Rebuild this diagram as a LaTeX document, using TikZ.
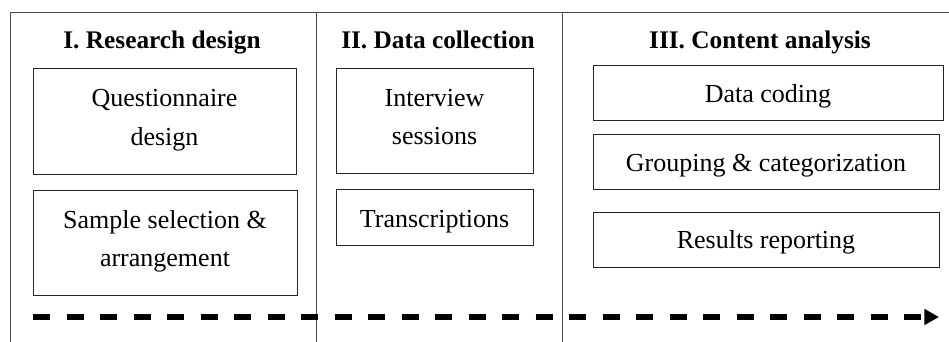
\documentclass[tikz,border=0pt]{standalone}
\usepackage{fontspec}
\setmainfont{Liberation Serif}
\usetikzlibrary{arrows.meta}
\newcommand{\twolines}[2]{\begin{tabular}[b]{@{}c@{}}#1\\#2\end{tabular}}
\begin{document}
\begin{tikzpicture}[x=0.75pt,y=-0.75pt,
  frame/.style={draw=black!70,line width=0.6pt},
  stepbox/.style={draw=black!85,line width=0.65pt,rectangle,inner sep=0pt,
    font=\fontsize{19.5}{29}\selectfont,text height=15pt,text depth=0pt},
  twobox/.style={stepbox,text height=36.5pt},
  title/.style={font=\fontsize{19}{23}\selectfont\bfseries,anchor=base},
  flow/.style={line width=4pt,dash pattern=on 12.75pt off 12.375pt,-{Triangle[length=11pt,width=11.5pt]}}]
\useasboundingbox (0,0) rectangle (949,342);
% frame
\draw[frame] (10,342) -- (10,12) -- (949,12);
\draw[frame] (316,12) -- (316,342);
\draw[frame] (562,12) -- (562,342);
% titles
\node[title] (t1) at (162,49) {I. Research design};
\node[title] (t2) at (438,49) {II. Data collection};
\node[title] (t3) at (760,49) {III. Content analysis};
% column I
\node[twobox,minimum width=263*0.75pt,minimum height=106*0.75pt] (q) at (164.5,121) {\twolines{Questionnaire}{design}};
\node[twobox,minimum width=264*0.75pt,minimum height=105*0.75pt] (s) at (165,242.5) {\twolines{Sample selection \&}{arrangement}};
% column II
\node[twobox,minimum width=197*0.75pt,minimum height=105*0.75pt] (i) at (434.5,120.5) {\twolines{Interview}{sessions}};
\node[stepbox,minimum width=197*0.75pt,minimum height=56*0.75pt] (tr) at (434.5,217) {Transcriptions};
% column III
\node[stepbox,minimum width=350*0.75pt,minimum height=55*0.75pt] (dc) at (768,92.5) {Data coding};
\node[stepbox,minimum width=346*0.75pt,minimum height=55*0.75pt] (g) at (766,161.5) {Grouping \& categorization};
\node[stepbox,minimum width=346*0.75pt,minimum height=55*0.75pt,text height=13pt] (r) at (766,239.5) {Results reporting};
% arrow
\coordinate (a0) at (33,317);
\coordinate (a1) at (939,317);
\draw[flow] (a0) -- (a1);
\end{tikzpicture}
\end{document}
